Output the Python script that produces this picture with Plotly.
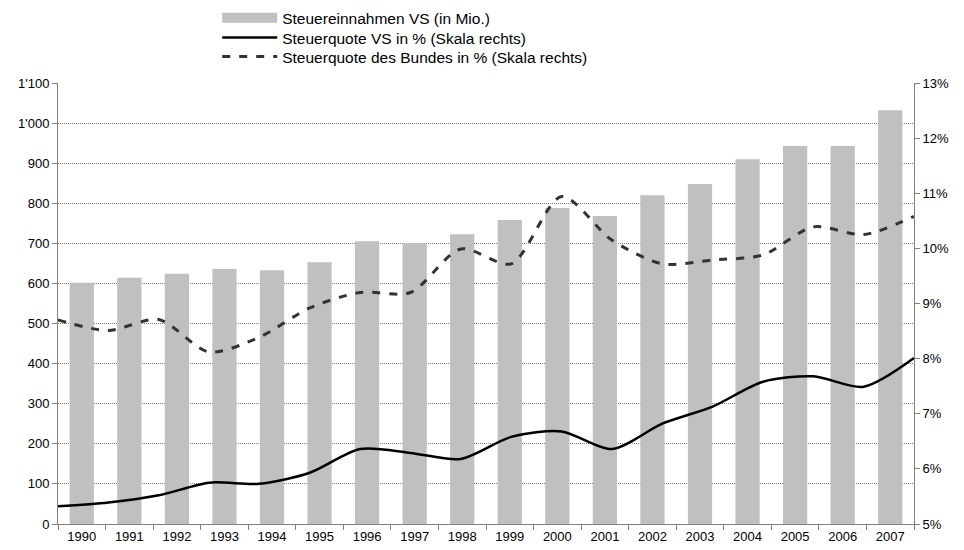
"""Steuereinnahmen VS und Steuerquoten 1990-2007."""

import plotly.graph_objects as go

years = [str(y) for y in range(1990, 2008)]

# Steuereinnahmen VS in Mio. (linke Skala)
einnahmen = [602, 614, 624, 636, 633, 653, 705, 700, 723, 758,
             788, 768, 820, 848, 910, 943, 943, 1032]

# Steuerquoten in % (rechte Skala)
quote_vs = [5.32, 5.39, 5.52, 5.75, 5.73, 5.93, 6.36, 6.29, 6.18, 6.58,
            6.68, 6.36, 6.82, 7.13, 7.58, 7.68, 7.49, 8.01]
quote_bund = [8.70, 8.51, 8.71, 8.12, 8.39, 8.92, 9.20, 9.20, 9.99, 9.72,
              10.94, 10.15, 9.72, 9.79, 9.88, 10.39, 10.25, 10.58]

y_left_ticks = list(range(0, 1101, 100))
y_right_ticks = list(range(5, 14))
y_right_labels = [f"{v}%" for v in y_right_ticks]

BAR_GREY = "#C0C0C0"
AXIS_GREY = "#808080"

fig = go.Figure()

fig.add_trace(go.Bar(
    x=years,
    y=einnahmen,
    marker_color=BAR_GREY,
    marker_line_width=0,
    showlegend=False,
    hovertemplate="%{x}: %{y} Mio.<extra></extra>",
))

# Legendeneintrag im Excel-Stil (breites graues Rechteck)
fig.add_trace(go.Scatter(
    x=[None], y=[None],
    mode="lines",
    line=dict(color=BAR_GREY, width=13),
    name="Steuereinnahmen VS (in Mio.)",
    legend="legend",
))

# Linien laufen über die ganze Breite: eigene, versteckte x-Achse
line_x = list(range(len(years)))

fig.add_trace(go.Scatter(
    x=line_x,
    y=quote_vs,
    xaxis="x2",
    yaxis="y2",
    mode="lines",
    line=dict(color="#000000", width=2.5, shape="spline", smoothing=0.8),
    name="Steuerquote VS in % (Skala rechts)",
    legend="legend2",
    customdata=years,
    hovertemplate="%{customdata}: %{y:.2f}%<extra></extra>",
))

fig.add_trace(go.Scatter(
    x=line_x,
    y=quote_bund,
    xaxis="x2",
    yaxis="y2",
    mode="lines",
    line=dict(color="#333333", width=3, dash="8px,9px", shape="spline", smoothing=0.8),
    name="Steuerquote des Bundes in % (Skala rechts)",
    legend="legend3",
    customdata=years,
    hovertemplate="%{customdata}: %{y:.2f}%<extra></extra>",
))


def legend_row(y):
    return dict(
        x=0.186, y=y,
        xref="paper", yref="paper",
        xanchor="left", yanchor="middle",
        font=dict(size=15.5),
        itemwidth=55,
        bgcolor="rgba(0,0,0,0)",
    )


# Seite hat 8px Body-Rand -> Figur entsprechend kleiner
fig.update_layout(
    width=956,
    height=542,
    plot_bgcolor="white",
    paper_bgcolor="white",
    font=dict(family="Liberation Sans, Arial, sans-serif", size=13, color="#000000"),
    separators=".'",
    bargap=0.49,
    margin=dict(l=50, r=50, t=75, b=26, autoexpand=False),
    legend=legend_row(1.147),
    legend2=legend_row(1.102),
    legend3=legend_row(1.059),
    xaxis=dict(
        type="category",
        showgrid=False,
        showline=True,
        linecolor=AXIS_GREY,
        ticks="outside",
        tickson="boundaries",
        ticklen=5,
        tickcolor=AXIS_GREY,
        tickfont=dict(size=13),
    ),
    xaxis2=dict(
        overlaying="x",
        range=[0, len(years) - 1],
        visible=False,
    ),
    yaxis=dict(
        range=[0, 1100],
        tickvals=y_left_ticks,
        tickformat=",d",
        showgrid=True,
        gridcolor=AXIS_GREY,
        griddash="1px,1px",
        gridwidth=1,
        showline=True,
        linecolor=AXIS_GREY,
        ticks="outside",
        ticklen=5,
        tickcolor=AXIS_GREY,
        zeroline=False,
        tickfont=dict(size=13),
    ),
    yaxis2=dict(
        overlaying="y",
        side="right",
        anchor="x2",
        range=[5, 13],
        tickmode="array",
        tickvals=y_right_ticks,
        ticktext=y_right_labels,
        showgrid=False,
        showline=True,
        linecolor=AXIS_GREY,
        ticks="outside",
        ticklen=5,
        tickcolor=AXIS_GREY,
        zeroline=False,
        tickfont=dict(size=13),
    ),
)

fig.write_html("out.html")
